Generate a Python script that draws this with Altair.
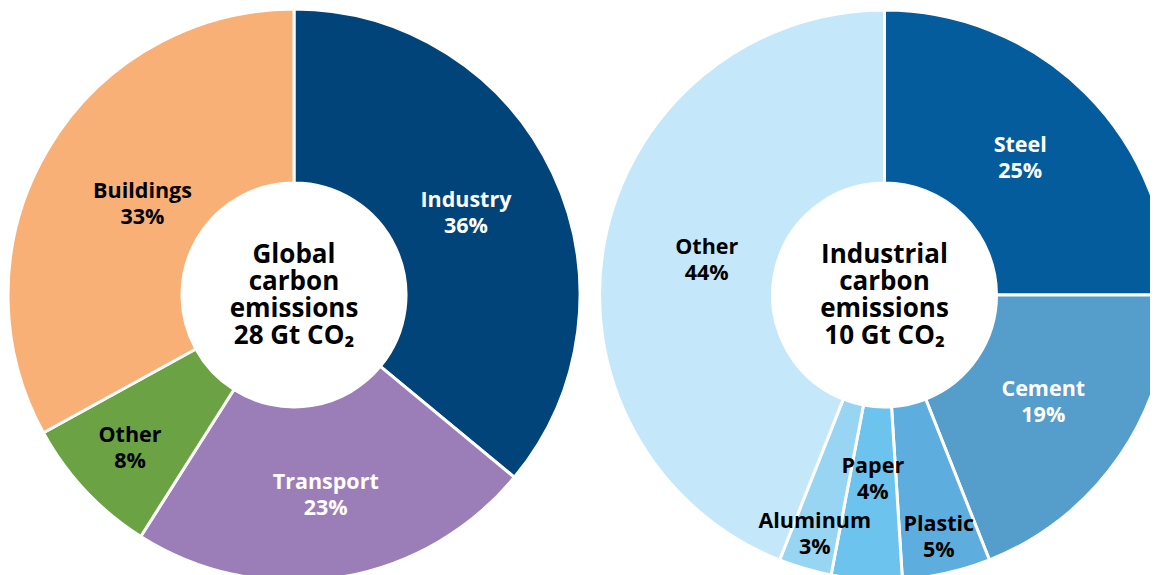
import altair as alt
import pandas as pd

# ---- data ----
global_names = ["Industry", "Transport", "Other", "Buildings"]
global_values = [36, 23, 8, 33]

ind_names = ["Steel", "Cement", "Plastic", "Paper", "Aluminum", "Other"]
ind_values = [25, 19, 5, 4, 3, 44]

global_title = "Global\ncarbon\nemissions\n28 Gt CO₂"
ind_title = "Industrial\ncarbon\nemissions\n10 Gt CO₂"

# ---- styles ----
global_colors = ["#00447a", "#9b7eb8", "#6aa244", "#f8b076"]
ind_colors = ["#045c9c", "#559dcb", "#5daede", "#6cc3ee", "#98d5f2", "#c4e8fa"]

global_label_style = {  # name: (radius, color)
    "Industry": (190, "white"),
    "Transport": (203, "white"),
    "Other": (225, "black"),
    "Buildings": (176, "black"),
}
ind_label_style = {
    "Steel": (192, "white"),
    "Cement": (192, "white"),
    "Plastic": (249, "black"),
    "Paper": (185, "black"),
    "Aluminum": (250, "black"),
    "Other": (181, "black"),
}

FONT = "Open Sans"
W, H = 1142, 567
LABEL_SIZE, LABEL_LH = 21.5, 26
TITLE_SIZE, TITLE_LH = 26, 27


def donut(names, values, colors, label_style, title, cx, cy, r_out, r_in):
    df = pd.DataFrame({"name": names, "value": values, "idx": list(range(len(names)))})
    base = (
        alt.Chart(df)
        .transform_window(end="sum(value)", sort=[alt.SortField("idx")], frame=[None, 0])
        .transform_calculate(
            start="datum.end - datum.value",
            mid="datum.end - datum.value / 2",
            label="datum.name + '\\n' + datum.value + '%'",
        )
    )
    tscale = alt.Scale(domain=[0, 100])
    arcs = base.mark_arc(
        outerRadius=r_out, innerRadius=r_in, stroke="white", strokeWidth=3
    ).encode(
        theta=alt.Theta("start:Q", scale=tscale, stack=None),
        theta2="end:Q",
        color=alt.Color("name:N", scale=alt.Scale(domain=names, range=colors), legend=None),
        x=alt.value(cx),
        y=alt.value(cy),
    )
    layers = [arcs]
    for nm, (rad, col) in label_style.items():
        t = base.transform_filter(alt.datum.name == nm).mark_text(
            radius=rad,
            font=FONT,
            fontWeight="bold",
            fontSize=LABEL_SIZE,
            lineBreak="\n",
            lineHeight=LABEL_LH,
            align="center",
            baseline="middle",
            dy=-LABEL_LH / 2,
            color=col,
        ).encode(
            theta=alt.Theta("mid:Q", scale=tscale, stack=None),
            text="label:N",
            x=alt.value(cx),
            y=alt.value(cy),
        )
        layers.append(t)
    center = alt.Chart(pd.DataFrame({"t": [title]})).mark_text(
        font=FONT,
        fontWeight="bold",
        fontSize=TITLE_SIZE,
        lineBreak="\n",
        lineHeight=TITLE_LH,
        align="center",
        baseline="middle",
        dy=-1.5 * TITLE_LH,
        color="black",
    ).encode(text="t:N", x=alt.value(cx), y=alt.value(cy))
    layers.append(center)
    return layers


left = donut(global_names, global_values, global_colors, global_label_style,
             global_title, 286, 287, 286, 112)
right = donut(ind_names, ind_values, ind_colors, ind_label_style,
              ind_title, 876.5, 287, 285, 112)

chart = (
    alt.layer(*left, *right)
    .resolve_scale(color="independent", theta="independent")
    .properties(width=W, height=H, autosize=alt.AutoSizeParams(type="none"), padding=0)
    .configure_view(stroke=None)
)

chart.save("out.html", embed_options={"renderer": "svg", "actions": False})
